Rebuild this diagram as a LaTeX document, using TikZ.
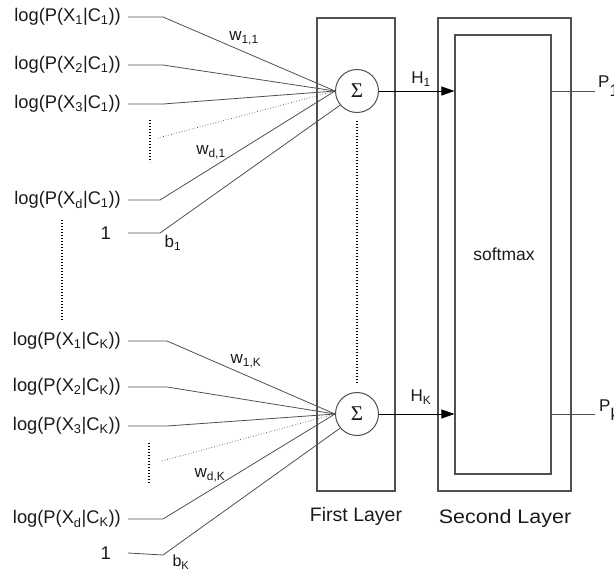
\documentclass[tikz,border=0pt]{standalone}
\usepackage{fontspec}
\setmainfont{Liberation Sans}
\newfontfamily\sigfont{Liberation Serif}
\usetikzlibrary{arrows.meta}
\definecolor{ln}{HTML}{505050}
\definecolor{tx}{HTML}{1A1A1A}
\begin{document}
\begin{tikzpicture}[x=1pt,y=-1pt,
  lab/.style={inner sep=0pt, text=tx, font=\fontsize{18.3}{21}\selectfont, anchor=east},
  wlab/.style={inner sep=0pt, text=tx, font=\fontsize{17}{20}\selectfont},
  wire/.style={draw=ln, line width=0.8pt},
  dotw/.style={draw=ln, line width=0.7pt, dotted},
  vdots/.style={draw=black, line width=1.3pt, dash pattern=on 1pt off 2pt},
  boxst/.style={draw=ln, line width=1.1pt},
  sumst/.style={circle, draw=ln, line width=1pt, minimum size=43pt, inner sep=0pt, font=\sigfont\fontsize{21}{21}\selectfont, text=tx},
  layer/.style={inner sep=0pt, text=tx, font=\fontsize{19.5}{22}\selectfont}
]
\useasboundingbox (0,0) rectangle (614,573);

% layer boxes
\node[boxst, minimum width=78pt, minimum height=473pt, inner sep=0pt] (L1) at (356,254.5) {};
\node[boxst, minimum width=133pt, minimum height=473pt, inner sep=0pt] (L2) at (504.5,254.5) {};
\node[boxst, minimum width=96pt, minimum height=439pt, inner sep=0pt] (SM) at (503,254.5) {};
\node[wlab, font=\fontsize{17.5}{20}\selectfont] (smt) at (504,254) {softmax};

% sum nodes
\node[sumst] (s1) at (357,91) {Σ};
\node[sumst] (s2) at (357,414) {Σ};
\path (s1.south) ++(0,8) coordinate (v1a) (s2.north) ++(0,-8) coordinate (v1b);
\draw[vdots, line width=1.2pt] (v1a) -- (v1b);

% group 1 inputs
\node[lab] (a1) at (121,17) {log(P(X\textsubscript{1}|C\textsubscript{1}))};
\node[lab] (a2) at (121,65) {log(P(X\textsubscript{2}|C\textsubscript{1}))};
\node[lab] (a3) at (121,104) {log(P(X\textsubscript{3}|C\textsubscript{1}))};
\node[lab] (ad) at (121,200) {log(P(X\textsubscript{d}|C\textsubscript{1}))};
\node[lab] (ao) at (111,233) {1};
\coordinate (ka1) at (163,17);
\coordinate (ka2) at (163,65);
\coordinate (ka3) at (163,104);
\coordinate (kad) at (160,200);
\coordinate (kao) at (160,233);
\coordinate (kadot) at (158,138);
\draw[wire] ([xshift=7pt]a1.east) -- (ka1) -- (s1.west);
\draw[wire] ([xshift=7pt]a2.east) -- (ka2) -- (s1.west);
\draw[wire] ([xshift=7pt]a3.east) -- (ka3) -- (s1.west);
\draw[wire] ([xshift=7pt]ad.east) -- (kad) -- (s1.west);
\draw[wire] ([xshift=17pt]ao.east) -- (kao) -- (s1.220);
\draw[dotw] (kadot) -- (s1.west);
\coordinate (d1t) at (150,120);
\coordinate (d1b) at (150,162);
\draw[vdots] (d1t) -- (d1b);
\node[wlab] (w11) at (244,38) {w\textsubscript{1,1}};
\node[wlab] (wd1) at (211,152) {w\textsubscript{d,1}};
\node[wlab] (b1) at (173,243) {b\textsubscript{1}};

% between groups
\coordinate (gdt) at (62,220);
\coordinate (gdb) at (62,320);
\draw[vdots] (gdt) -- (gdb);

% group K inputs
\node[lab] (c1) at (121,341) {log(P(X\textsubscript{1}|C\textsubscript{K}))};
\node[lab] (c2) at (121,387) {log(P(X\textsubscript{2}|C\textsubscript{K}))};
\node[lab] (c3) at (121,426) {log(P(X\textsubscript{3}|C\textsubscript{K}))};
\node[lab] (cd) at (121,519) {log(P(X\textsubscript{d}|C\textsubscript{K}))};
\node[lab] (co) at (111,553) {1};
\coordinate (kc1) at (167,341);
\coordinate (kc2) at (167,387);
\coordinate (kc3) at (167,426);
\coordinate (kcd) at (163,519);
\coordinate (kco) at (163,555);
\coordinate (kcdot) at (162,461);
\draw[wire] ([xshift=7pt]c1.east) -- (kc1) -- (s2.west);
\draw[wire] ([xshift=7pt]c2.east) -- (kc2) -- (s2.west);
\draw[wire] ([xshift=7pt]c3.east) -- (kc3) -- (s2.west);
\draw[wire] ([xshift=7pt]cd.east) -- (kcd) -- (s2.west);
\draw[wire] (co.east -| 128,555) -- (kco) -- (s2.220);
\draw[dotw] (kcdot) -- (s2.west);
\coordinate (d2t) at (149,443);
\coordinate (d2b) at (149,483);
\draw[vdots] (d2t) -- (d2b);
\node[wlab] (w1k) at (246,361) {w\textsubscript{1,K}};
\node[wlab] (wdk) at (210,475) {w\textsubscript{d,K}};
\node[wlab, font=\fontsize{16}{18}\selectfont] (bk) at (181,562) {b\textsubscript{K}};

% hidden outputs
\draw[draw=black, line width=0.9pt, -{Triangle[length=13pt,width=9pt]}] (s1.east) -- (SM.west |- s1.east);
\draw[draw=black, line width=0.9pt, -{Triangle[length=13pt,width=9pt]}] (s2.east) -- (SM.west |- s2.east);
\node[wlab] (h1) at (421,79) {H\textsubscript{1}};
\node[wlab] (hk) at (421,397) {H\textsubscript{K}};

% outputs
\coordinate (o1) at (595,91);
\coordinate (ok) at (595,414);
\draw[wire] (SM.east |- s1.east) -- (o1);
\draw[wire] (SM.east |- s2.east) -- (ok);
\node[wlab, anchor=west] (p1) at (598,86) {P\raisebox{-9pt}{\fontsize{17}{17}\selectfont 1}};
\node[wlab, anchor=west] (pk) at (599,410) {P\raisebox{-9pt}{\fontsize{17}{17}\selectfont k}};

% layer labels
\node[layer] (fl) at (356,516) {First Layer};
\node[layer] (sl) at (505,518) {\scalebox{1.1}[1]{Second Layer}};
\end{tikzpicture}
\end{document}
